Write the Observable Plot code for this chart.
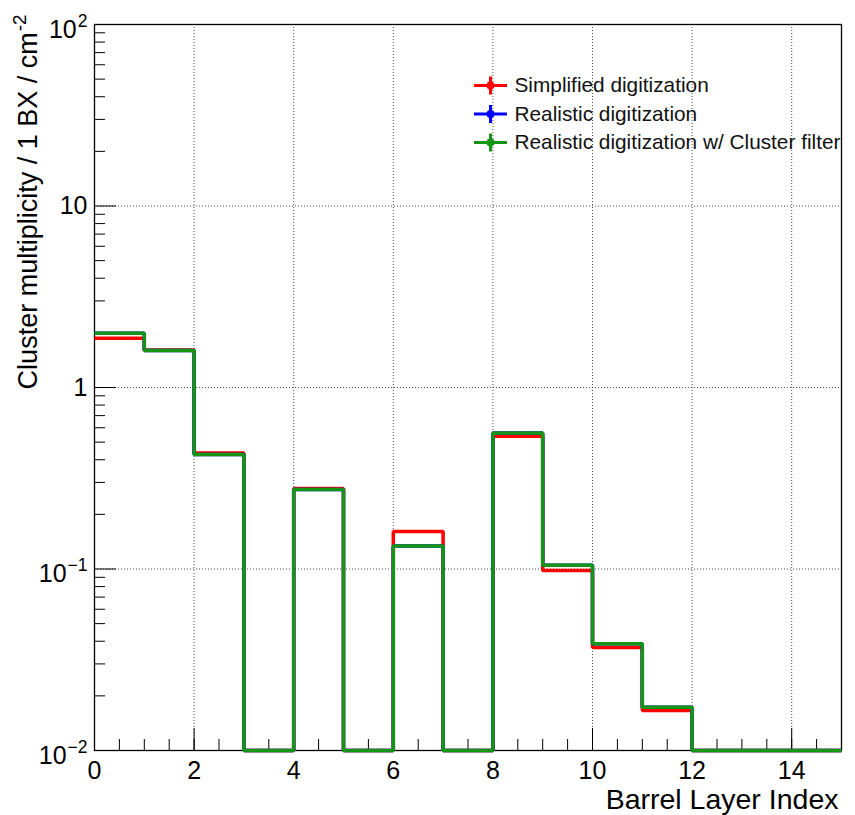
<!DOCTYPE html>
<html>
<head>
<meta charset="utf-8">
<script src="https://cdn.jsdelivr.net/npm/d3@7"></script>
<script src="https://cdn.jsdelivr.net/npm/@observablehq/plot@0.6"></script>
<style>
  html, body { margin: 0; padding: 0; background: #fff; }
  #chart svg { display: block; }
</style>
</head>
<body>
<div id="chart"></div>
<script>
// Bin edges of the barrel layer index histogram (15 bins, 0..15)
const layerEdges = [0, 1, 2, 3, 4, 5, 6, 7, 8, 9, 10, 11, 12, 13, 14, 15];

// Cluster multiplicity per bunch crossing per cm^2, one value per layer bin
const simplified        = [1.87, 1.61, 0.435, 0, 0.278, 0, 0.161, 0, 0.539, 0.098, 0.0369, 0.0166, 0, 0, 0];
const realistic         = [1.99, 1.60, 0.428, 0, 0.274, 0, 0.134, 0, 0.562, 0.105, 0.0387, 0.0173, 0, 0, 0];
const realisticFiltered = [1.99, 1.60, 0.428, 0, 0.274, 0, 0.134, 0, 0.562, 0.105, 0.0387, 0.0173, 0, 0, 0];

const seriesNames  = ["Simplified digitization", "Realistic digitization", "Realistic digitization w/ Cluster filter"];
const seriesColors = ["#ff0000", "#0000ff", "#149614"];

// Axis ticks and labels
const xMajorTicks = [0, 2, 4, 6, 8, 10, 12, 14];
const xMinorTicks = d3.range(0, 15.001, 0.5);
const yDecades    = [0.01, 0.1, 1, 10, 100];
const yTickLabels = ["10^{\u22122}", "10^{\u22121}", "1", "10", "10^{2}"];
const yMinorTicks = yDecades.slice(0, -1).flatMap(d => [2, 3, 4, 5, 6, 7, 8, 9].map(k => d * k));

const xTitle = "Barrel Layer Index";
const yTitle = "Cluster multiplicity / 1 BX / cm^{-2}";

// Layout (pixels)
const width = 855, height = 815;
const margin = {left: 94, right: 14, top: 24, bottom: 65};
const frameW = width - margin.left - margin.right;
const frameH = height - margin.top - margin.bottom;
const yMin = yDecades[0], yMax = yDecades[yDecades.length - 1];

// Empty bins sit on the lower edge of the log frame
const stepPoints = (values) =>
  layerEdges.map((x, i) => ({x, y: Math.max(values[Math.min(i, values.length - 1)], yMin)}));

const series = [simplified, realistic, realisticFiltered].map((values, i) => ({
  name: seriesNames[i], color: seriesColors[i], points: stepPoints(values)
}));

const labelByValue = new Map(yDecades.map((d, i) => [d, yTickLabels[i]]));

// Legend marker: horizontal line with a vertical error bar
const legendMarker = {
  draw(ctx) {
    ctx.moveTo(-16.5, 0); ctx.lineTo(16.5, 0);
    ctx.moveTo(0, -9); ctx.lineTo(0, 9);
  }
};

const font = "'Liberation Sans', Arial, Helvetica, sans-serif";

const legendMarks = series.flatMap((s, i) => {
  const dy = 61 + 28.5 * i;
  return [
    Plot.dot([s], {frameAnchor: "top-left", dx: 396, dy, symbol: legendMarker, r: 5,
                   stroke: s.color, strokeWidth: 3, fill: "none"}),
    Plot.dot([s], {frameAnchor: "top-left", dx: 396, dy, r: 4, fill: s.color, stroke: "none"}),
    Plot.text([s], {frameAnchor: "top-left", dx: 420, dy, text: d => d.name, textAnchor: "start",
                    lineAnchor: "middle", fontSize: 20.8, fill: "#111"})
  ];
});

const chart = Plot.plot({
  width, height,
  marginLeft: margin.left, marginRight: margin.right,
  marginTop: margin.top, marginBottom: margin.bottom,
  style: {fontFamily: font, background: "#fff", color: "#000", overflow: "visible"},
  x: {domain: [layerEdges[0], layerEdges[layerEdges.length - 1]], axis: null},
  y: {type: "log", domain: [yMin, yMax], axis: null},
  marks: [
    // dotted grid
    Plot.gridX(xMajorTicks.filter(d => d > 0), {stroke: "#000", strokeOpacity: 0.7, strokeDasharray: "1,2", strokeWidth: 1}),
    Plot.gridY(yDecades.slice(1, -1), {stroke: "#000", strokeOpacity: 0.7, strokeDasharray: "1,2", strokeWidth: 1}),
    // frame
    Plot.frame({stroke: "#000", strokeWidth: 1.3}),
    // inward ticks
    Plot.tickX(xMinorTicks, {x: d => d, insetTop: frameH - 11, stroke: "#000", strokeWidth: 1}),
    Plot.tickX(xMajorTicks, {x: d => d, insetTop: frameH - 22, stroke: "#000", strokeWidth: 1}),
    Plot.tickY(yMinorTicks, {y: d => d, insetRight: frameW - 11, stroke: "#000", strokeWidth: 1}),
    Plot.tickY(yDecades, {y: d => d, insetRight: frameW - 22, stroke: "#000", strokeWidth: 1}),
    // tick labels
    Plot.axisX(xMajorTicks, {tickSize: 0, tickPadding: 11, fontSize: 25, label: null, tickFormat: d => String(d)}),
    Plot.axisY(yDecades, {tickSize: 0, tickPadding: 7, fontSize: 25, label: null, tickFormat: d => labelByValue.get(d)}),
    // axis titles
    Plot.text([xTitle], {frameAnchor: "bottom-right", dx: -3, dy: 49, text: d => d, textAnchor: "end",
                         lineAnchor: "middle", fontSize: 28.5}),
    Plot.text([yTitle], {frameAnchor: "top-left", dx: -66, dy: -10, rotate: -90, text: d => d, textAnchor: "end",
                         lineAnchor: "middle", fontSize: 27}),
    // histograms
    ...series.map(s => Plot.line(s.points, {x: "x", y: "y", curve: "step-after", stroke: s.color,
                                            strokeWidth: 3.5, strokeLinejoin: "miter", strokeLinecap: "butt"})),
    // legend
    ...legendMarks
  ]
});

// Turn "^{...}" into raised, smaller text
chart.querySelectorAll("text").forEach(t => {
  const s = t.textContent;
  const m = /^(.*)\^\{([^}]*)\}$/.exec(s);
  if (!m) return;
  const isTick = !/rotate/.test(t.getAttribute("transform") || "");
  t.textContent = "";
  const ns = "http://www.w3.org/2000/svg";
  const base = document.createElementNS(ns, "tspan");
  base.textContent = m[1];
  if (isTick && m[1] === "10") base.setAttribute("dy", "5");
  const sup = document.createElementNS(ns, "tspan");
  sup.textContent = m[2];
  sup.setAttribute("dy", "-11");
  sup.setAttribute("dx", "1");
  sup.style.fontSize = "70%";
  t.append(base, sup);
});

document.getElementById("chart").append(chart);
</script>
</body>
</html>
